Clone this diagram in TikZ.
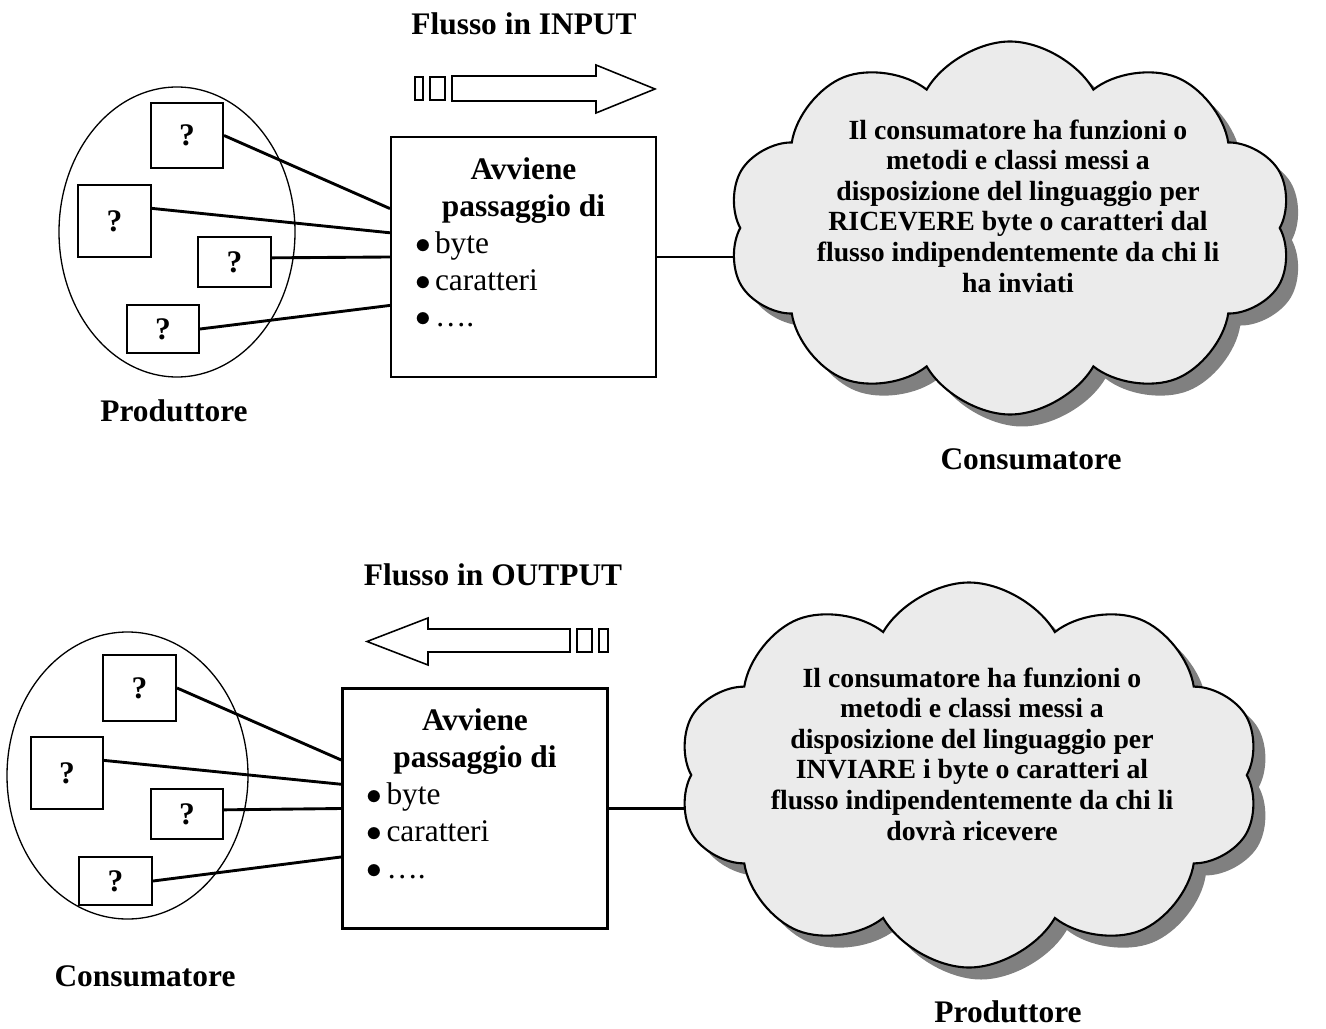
\documentclass[tikz,border=0pt]{standalone}
\usepackage{fontspec}
\setmainfont{Liberation Serif}
\usepackage{tikz}
\usetikzlibrary{backgrounds,calc,positioning,shadows,shapes}
\usepackage{xcolor}

\newlength{\unitpx}
\setlength{\unitpx}{0.382pt}
\newcommand{\listitem}[1]{\makebox[217\unitpx][l]{\makebox[20\unitpx][l]{$\bullet$}#1}}

\begin{document}
\begin{tikzpicture}[x=\unitpx,y=-\unitpx,
      oval node/.style={ellipse,draw,line width=0.5pt,inner sep=0},
      qbox node/.style={rectangle,draw,line width=0.8pt,
          font=\fontsize{12}{14}\selectfont\bfseries},
      list node/.style={rectangle,draw,line width=0.8pt,
          minimum width=265\unitpx,minimum height=240\unitpx},
      list text/.style={inner sep=0,align=center,
          font=\fontsize{12}{14.1}\selectfont},
      cloud node/.style={cloud,cloud puffs=10,cloud puff arc=120,
          cloud ignores aspect,draw,line width=0.8pt,fill=black!8,
          drop shadow={shadow xshift=12\unitpx,shadow yshift=-12\unitpx,
              fill=black!50,opacity=1}},
      title node/.style={inner sep=0,font=\fontsize{12}{14}\selectfont\bfseries},
      say node/.style={inner sep=0,align=center,
          font=\fontsize{10.6}{11.7}\selectfont\bfseries},
      flow/.style={draw,line width=0.6pt,fill=white},
      link/.style={every edge/.style={draw,line width=1.1pt}}]

    \useasboundingbox (0,0) rectangle (1326,1028);

    % ---- Flusso in INPUT ----
    \node[title node] (inTitle) at (524,24) {Flusso in INPUT};
    \path[flow] (452,76) -- (596,76) -- (596,65) -- (655,89) -- (596,113)
      -- (596,101) -- (452,101) -- cycle;
    \path[flow] (415,77) rectangle (423,100);
    \path[flow] (430,77) rectangle (445,100);

    \node[oval node, minimum width=236\unitpx, minimum height=290\unitpx] (inOval) at (177,232) {};
    \node[qbox node, minimum width=72\unitpx, minimum height=65\unitpx] (inQ1) at (187,135.5) {?};
    \node[qbox node, minimum width=73\unitpx, minimum height=72\unitpx] (inQ2) at (114.5,221) {?};
    \node[qbox node, minimum width=73\unitpx, minimum height=50\unitpx] (inQ3) at (234.5,262) {?};
    \node[qbox node, minimum width=72\unitpx, minimum height=48\unitpx] (inQ4) at (163,329) {?};

    \node[list node] (inBox) at (523.5,257) {};
    \node[list text, below=21\unitpx of inBox.north] (inList) {%
      \textbf{Avviene}\\ \textbf{passaggio di}\\
      \listitem{byte}\\ \listitem{caratteri}\\ \listitem{….}};

    \path[link]
    (inQ1.east) edge ($(inBox.north west)!0.3!(inBox.south west)$)
    ($(inQ2.north east)!0.33!(inQ2.south east)$) edge ($(inBox.north west)!0.4!(inBox.south west)$)
    ($(inQ3.north east)!0.42!(inQ3.south east)$) edge (inBox.west)
    (inQ4.east) edge ($(inBox.north west)!0.7!(inBox.south west)$);

    \node[cloud node, minimum width=565\unitpx, minimum height=373\unitpx] (inCloud) at (1010,228) {};
    \begin{pgfonlayer}{background}
      \draw[line width=1.1pt] (inBox.east) -- (inBox.east -| inCloud.center);
    \end{pgfonlayer}
    \node[say node] (inSay) at (1018,206) {Il consumatore ha funzioni o\\
      metodi e classi messi a\\ disposizione del linguaggio per\\
      RICEVERE byte o caratteri dal\\ flusso indipendentemente da chi li\\
      ha inviati};

    \node[title node, below=22\unitpx of inOval, xshift=-3\unitpx] (inProd) {Produttore};
    \node[title node, below=33\unitpx of inCloud, xshift=21\unitpx] (inCons) {Consumatore};

    % ---- Flusso in OUTPUT ----
    \node[title node] (outTitle) at (493,575) {Flusso in OUTPUT};
    \path[flow] (570,629) -- (428,629) -- (428,618) -- (367,641.5) -- (428,665)
      -- (428,652) -- (570,652) -- cycle;
    \path[flow] (577,629) rectangle (592,652);
    \path[flow] (599,629) rectangle (608,652);

    \node[oval node, minimum width=241\unitpx, minimum height=287\unitpx] (outOval) at (127.5,775.5) {};
    \node[qbox node, minimum width=73\unitpx, minimum height=66\unitpx] (outQ1) at (139.5,688) {?};
    \node[qbox node, minimum width=72\unitpx, minimum height=72\unitpx] (outQ2) at (67,773) {?};
    \node[qbox node, minimum width=72\unitpx, minimum height=50\unitpx] (outQ3) at (187,814) {?};
    \node[qbox node, minimum width=73\unitpx, minimum height=48\unitpx] (outQ4) at (115.5,881) {?};

    \node[list node] (outBox) at (475,808.5) {};
    \node[list text, below=21\unitpx of outBox.north] (outList) {%
      \textbf{Avviene}\\ \textbf{passaggio di}\\
      \listitem{byte}\\ \listitem{caratteri}\\ \listitem{….}};

    \path[link]
    (outQ1.east) edge ($(outBox.north west)!0.3!(outBox.south west)$)
    ($(outQ2.north east)!0.33!(outQ2.south east)$) edge ($(outBox.north west)!0.4!(outBox.south west)$)
    ($(outQ3.north east)!0.42!(outQ3.south east)$) edge (outBox.west)
    (outQ4.east) edge ($(outBox.north west)!0.7!(outBox.south west)$);

    \node[cloud node, minimum width=582\unitpx, minimum height=385\unitpx] (outCloud) at (969,775) {};
    \begin{pgfonlayer}{background}
      \draw[line width=1.1pt] (outBox.east) -- (outBox.east -| outCloud.center);
    \end{pgfonlayer}
    \node[say node] (outSay) at (972,754) {Il consumatore ha funzioni o\\
      metodi e classi messi a\\ disposizione del linguaggio per\\
      INVIARE i byte o caratteri al\\ flusso indipendentemente da chi li\\
      dovrà ricevere};

    \node[title node, below=46\unitpx of outOval, xshift=17.5\unitpx] (outCons) {Consumatore};
    \node[title node, below=32\unitpx of outCloud, xshift=39\unitpx] (outProd) {Produttore};

  \end{tikzpicture}
\end{document}
